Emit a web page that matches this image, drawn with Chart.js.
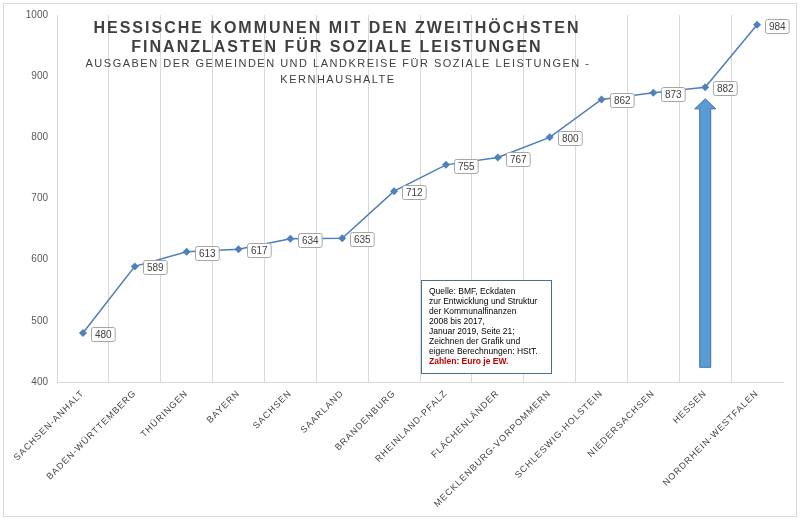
<!DOCTYPE html>
<html>
<head>
<meta charset="utf-8">
<script src="https://cdn.jsdelivr.net/npm/chart.js@4/dist/chart.umd.min.js"></script>
<style>
  body { margin: 0; background: #fff; }
  #wrap { width: 800px; height: 521px; }
</style>
</head>
<body>
<div id="wrap"><canvas id="chart" width="800" height="521"></canvas></div>
<script>
const laender = ["Sachsen-Anhalt", "Baden-Württemberg", "Thüringen", "Bayern", "Sachsen", "Saarland",
  "Brandenburg", "Rheinland-Pfalz", "Flächenländer", "Mecklenburg-Vorpommern", "Schleswig-Holstein",
  "Niedersachsen", "Hessen", "Nordrhein-Westfalen"];
const ausgaben = [480, 589, 613, 617, 634, 635, 712, 755, 767, 800, 862, 873, 882, 984];
const yTicks = [400, 500, 600, 700, 800, 900, 1000];
const titleLines = ["HESSISCHE KOMMUNEN MIT DEN ZWEITHÖCHSTEN", "FINANZLASTEN FÜR SOZIALE LEISTUNGEN"];
const subtitleLines = ["AUSGABEN DER GEMEINDEN UND LANDKREISE FÜR SOZIALE LEISTUNGEN -", "KERNHAUSHALTE"];
const quelle = ["Quelle: BMF, Eckdaten", "zur Entwicklung und Struktur", "der Kommunalfinanzen",
  "2008 bis 2017,", "Januar 2019, Seite 21;", "Zeichnen der Grafik und", "eigene Berechnungen: HStT."];
const quelleRot = "Zahlen: Euro je EW.";
// Pfeil unter Hessen: von / bis (Wert auf der y-Achse)
const pfeilIndex = 12;
const pfeilVon = 424;
const pfeilBis = 863;

const FONT = 'Arial, "Liberation Sans", sans-serif';

// letterSpacing fuer die Achsenbeschriftung
function spaced(scale, spacing) {
  if (scale._spacedPatched) return;
  const orig = scale.drawLabels;
  scale.drawLabels = function (area) {
    const ctx = this.ctx;
    const old = ctx.letterSpacing;
    ctx.letterSpacing = spacing;
    orig.call(this, area);
    ctx.letterSpacing = old;
  };
  scale._spacedPatched = true;
}

const extras = {
  id: "extras",
  beforeDraw(chart) {
    const ctx = chart.ctx;
    ctx.save();
    ctx.fillStyle = "#fff";
    ctx.fillRect(0, 0, chart.width, chart.height);
    ctx.restore();
    spaced(chart.scales.x, "1px");
    spaced(chart.scales.y, "0px");
  },
  afterDatasetsDraw(chart) {
    const ctx = chart.ctx;
    const meta = chart.getDatasetMeta(0);
    ctx.save();
    ctx.letterSpacing = "0px";
    ctx.font = "10px " + FONT;
    ctx.textBaseline = "middle";
    ctx.textAlign = "center";
    meta.data.forEach((pt, i) => {
      const txt = String(ausgaben[i]);
      const w = ctx.measureText(txt).width + 7;
      const h = 14;
      const bx = Math.round(pt.x + 8), by = Math.round(pt.y - 6);
      ctx.beginPath();
      ctx.roundRect(bx + 0.5, by + 0.5, w, h, 2);
      ctx.fillStyle = "#fff";
      ctx.fill();
      ctx.strokeStyle = "#a6a6a6";
      ctx.lineWidth = 1;
      ctx.stroke();
      ctx.fillStyle = "#404040";
      ctx.fillText(txt, bx + 0.5 + w / 2, by + 0.5 + h / 2 + 0.5);
    });
    ctx.restore();
  },
  afterDraw(chart) {
    const ctx = chart.ctx;
    const xs = chart.scales.x, ys = chart.scales.y;
    ctx.save();

    // Rahmen
    ctx.strokeStyle = "#d9d9d9";
    ctx.lineWidth = 1;
    ctx.strokeRect(3.5, 3.5, 793, 513);

    // Titel
    ctx.textAlign = "center";
    ctx.textBaseline = "alphabetic";
    ctx.fillStyle = "#404040";
    ctx.font = "bold 16px " + FONT;
    ctx.letterSpacing = "2px";
    ctx.fillText(titleLines[0], 337, 33);
    ctx.fillText(titleLines[1], 337, 52);
    ctx.font = "11px " + FONT;
    ctx.letterSpacing = "1.5px";
    ctx.fillText(subtitleLines[0], 338, 67);
    ctx.fillText(subtitleLines[1], 338, 83);
    ctx.letterSpacing = "0px";

    // Quellenkasten
    ctx.fillStyle = "#fff";
    ctx.fillRect(421, 280, 130, 93);
    ctx.strokeStyle = "#41719c";
    ctx.strokeRect(421.5, 280.5, 130, 93);
    ctx.textAlign = "left";
    ctx.fillStyle = "#000";
    ctx.font = "8.5px " + FONT;
    quelle.forEach((l, i) => ctx.fillText(l, 429, 294 + i * 10));
    ctx.fillStyle = "#c00000";
    ctx.font = "bold 8.5px " + FONT;
    ctx.fillText(quelleRot, 429, 294 + quelle.length * 10);

    // Pfeil
    const px = xs.getPixelForValue(pfeilIndex);
    const yTop = ys.getPixelForValue(pfeilBis);
    const yBot = ys.getPixelForValue(pfeilVon);
    const head = 10;
    ctx.beginPath();
    ctx.moveTo(px, yTop);
    ctx.lineTo(px + 10.5, yTop + head);
    ctx.lineTo(px + 5.5, yTop + head);
    ctx.lineTo(px + 5.5, yBot);
    ctx.lineTo(px - 5.5, yBot);
    ctx.lineTo(px - 5.5, yTop + head);
    ctx.lineTo(px - 10.5, yTop + head);
    ctx.closePath();
    ctx.fillStyle = "#5b9bd5";
    ctx.fill();
    ctx.strokeStyle = "#41719c";
    ctx.lineWidth = 1;
    ctx.stroke();

    ctx.restore();
  }
};

new Chart(document.getElementById("chart"), {
  type: "line",
  data: {
    labels: laender.map(l => l.toUpperCase()),
    datasets: [{
      data: ausgaben,
      borderColor: "#4a7ebb",
      backgroundColor: "#4f81bd",
      borderWidth: 1.5,
      pointStyle: "rectRot",
      pointRadius: 4,
      pointBorderWidth: 0,
      fill: false,
      tension: 0
    }]
  },
  options: {
    responsive: false,
    animation: false,
    devicePixelRatio: 1,
    layout: { padding: { top: 12, right: 17, bottom: 0, left: 0 } },
    plugins: { legend: { display: false }, tooltip: { enabled: false } },
    scales: {
      x: {
        offset: true,
        grid: {
          offset: true,
          drawTicks: false,
          color: c => (c.index === undefined ? "rgba(0,0,0,0)" : "#d9d9d9")
        },
        border: { display: true, color: "#d9d9d9" },
        ticks: {
          autoSkip: false,
          maxRotation: 45,
          minRotation: 45,
          padding: 6,
          color: "#404040",
          font: { family: FONT, size: 9 }
        },
        afterFit: s => { s.height = 139; }
      },
      y: {
        min: 400,
        max: 1000,
        afterBuildTicks: s => { s.ticks = yTicks.map(v => ({ value: v })); },
        grid: { display: false, drawTicks: false },
        border: { display: false },
        ticks: {
          padding: 9,
          color: "#595959",
          font: { family: FONT, size: 10 },
          callback: v => String(v)
        },
        afterFit: s => { s.width = 57; }
      }
    }
  },
  plugins: [extras]
});
</script>
</body>
</html>
